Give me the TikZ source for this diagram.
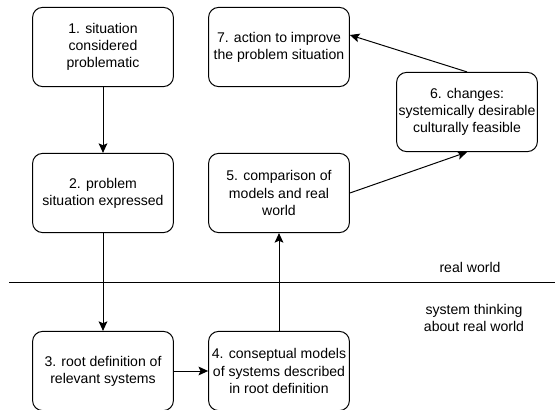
\documentclass[tikz,border=0pt]{standalone}
\usepackage{fontspec}
\setmainfont{Liberation Sans}
\usetikzlibrary{arrows.meta}

\begin{document}
\begin{tikzpicture}[line width=0.7pt,
        node_style/.style={rectangle,rounded corners=2.5mm,draw=black,fill=white,align=center,
            minimum width=3.52cm,minimum height=1.98cm,inner sep=1pt,
            font=\fontsize{10}{12.2}\selectfont},
        label_style/.style={draw=none,fill=none,align=center,font=\fontsize{10}{12.2}\selectfont},
        edge_style/.style={draw=black,line width=0.7pt,-{Stealth[length=2.4mm,width=2.2mm,inset=0.5mm]}},
        divider_style/.style={draw=black,line width=0.7pt}]
        \useasboundingbox (0,0) rectangle (13.875,-10.25);

        \node [node_style](n1) at (2.575,-1.175) {1. situation\\considered\\problematic};
        \node [node_style](n7) at (6.975,-1.175) {7. action to improve\\the problem situation};
        \node [node_style](n6) at (11.675,-2.8) {6. changes:\\systemically desirable\\culturally feasible};
        \node [node_style](n2) at (2.575,-4.825) {2. problem\\situation expressed};
        \node [node_style](n5) at (6.975,-4.825) {5. comparison of\\models and real\\world};
        \node [node_style](n3) at (2.575,-9.275) {3. root definition of\\relevant systems};
        \node [node_style](n4) at (6.975,-9.275) {4. conseptual models\\of systems described\\in root definition};

        \node [label_style](real) at (11.75,-6.675) {real world};
        \node [label_style](think) at (11.85,-7.95) {system thinking\\about real world};

        \coordinate (divl) at (0.225,-7.0625);
        \coordinate (divr) at (13.875,-7.0625);
        \coordinate (n7in) at ([yshift=3mm]n7.east);

        \draw [divider_style] (divl) -- (divr);
        \draw [edge_style] (n1) -- (n2);
        \draw [edge_style] (n2) -- (n3);
        \draw [edge_style] (n3) -- (n4);
        \draw [edge_style] (n4) -- (n5);
        \draw [edge_style] (n5.east) -- (n6.south);
        \draw [edge_style] (n6.north) -- (n7in);
\end{tikzpicture}
\end{document}
